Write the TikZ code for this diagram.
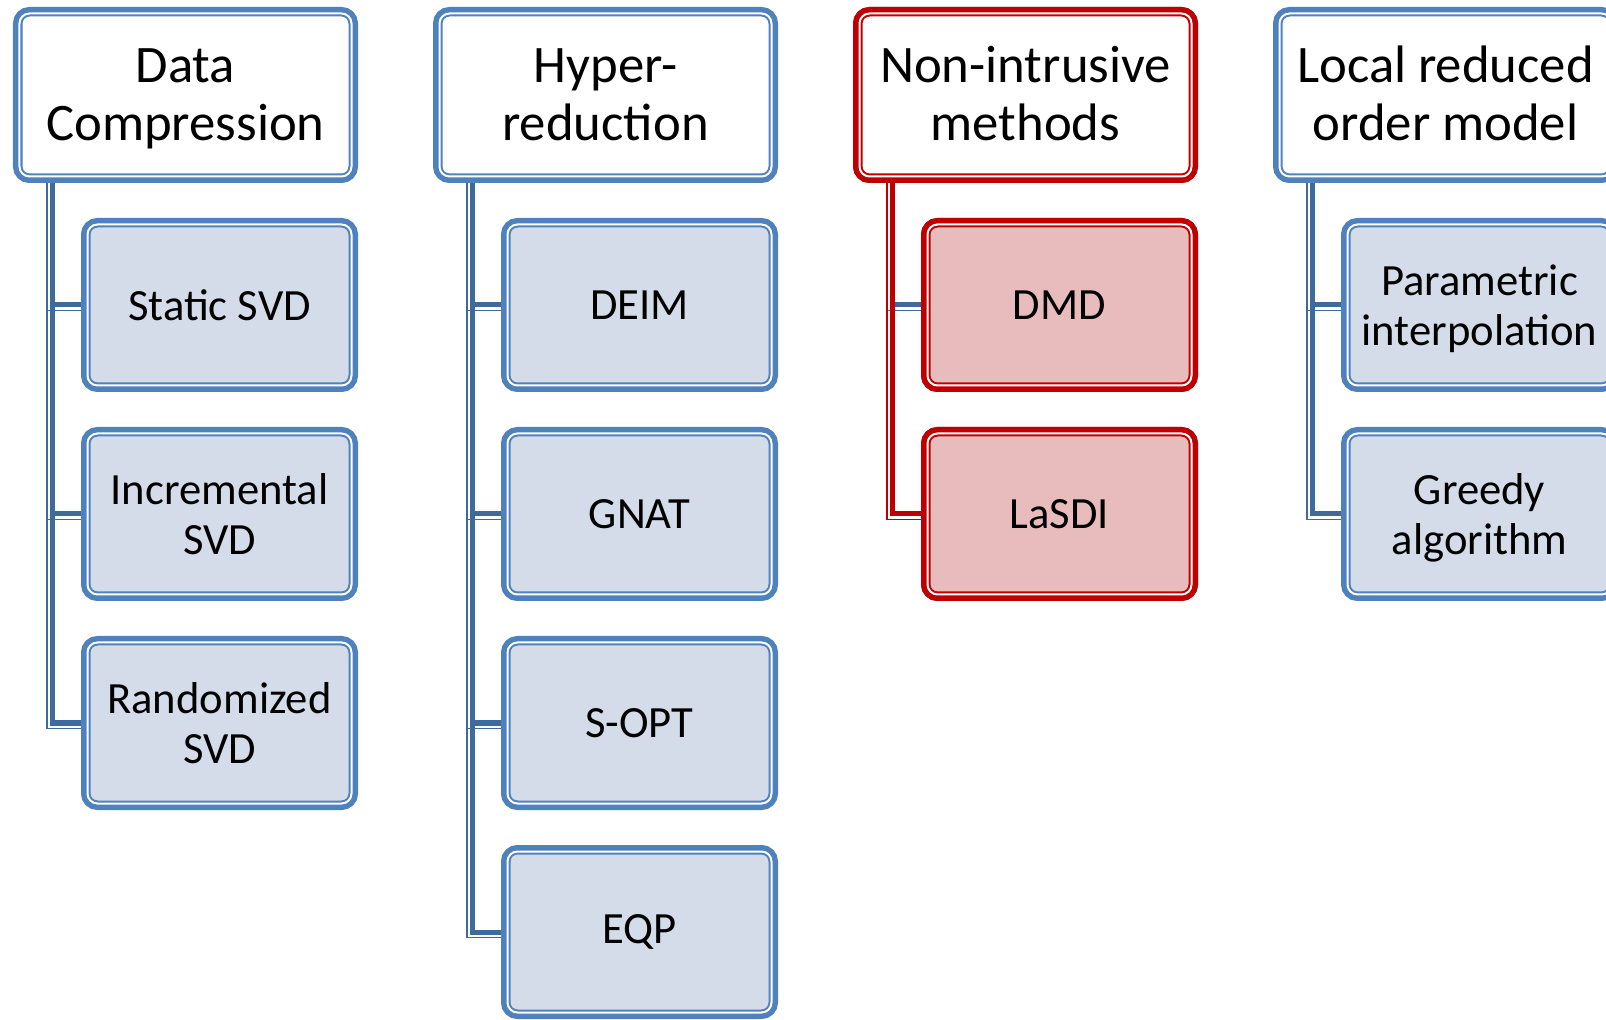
\documentclass[tikz,border=0pt]{standalone}
\usepackage{fontspec}
\setmainfont{Carlito}
\usepackage{tikz}
\usetikzlibrary{positioning,backgrounds}

\definecolor{boxblue}{HTML}{4F81BD}
\definecolor{linkblue}{HTML}{3F6A9C}
\definecolor{subfill}{HTML}{D4DCEA}
\definecolor{boxred}{HTML}{C00000}
\definecolor{redfill}{HTML}{E8BCBC}

\begin{document}
\begin{tikzpicture}[
  head/.style={rectangle, rounded corners=0.1cm, draw=boxblue, fill=white,
    line width=0.02cm, double=white, double distance=0.02cm,
    preaction={draw=boxblue, line width=0.13cm},
    minimum width=3.32cm, minimum height=1.63cm, inner sep=1pt, outer sep=0pt,
    font=\fontsize{15}{16.6}\selectfont, align=center,
    text height=27.1pt, text depth=1.1pt},
  sub/.style={head, fill=subfill, minimum width=2.64cm, minimum height=1.61cm,
    font=\fontsize{12.7}{14.2}\selectfont, text height=, text depth=},
  twoline/.style={text height=23pt, text depth=0pt},
  redhead/.style={draw=boxred, preaction={draw=boxred, line width=0.13cm}},
  redsub/.style={redhead, fill=redfill},
  link/.style={draw=linkblue, line width=0.05cm,
    preaction={draw=linkblue, line width=0.015cm,
      transform canvas={shift={(-0.055,-0.055)}}}},
  redlink/.style={link, draw=boxred,
    preaction={draw=boxred, line width=0.015cm,
      transform canvas={shift={(-0.055,-0.055)}}}},
  node distance=0.48cm
]
\path[use as bounding box, clip] (0,0) rectangle (16.06,-10.20);

% Top level boxes
\node[head] (dc) at (1.855,-0.95) {Data\\Compression};
\node[head] (hr) at (6.055,-0.95) {Hyper-\\reduction};
\node[head, redhead] (ni) at (10.255,-0.95) {Non-intrusive\\methods};
\node[head] (lr) at (14.455,-0.95) {Local reduced\\order model};

% Data compression
\node[sub, below=of dc.south east, anchor=north east] (svdA) {Static SVD};
\node[sub, twoline, below=of svdA] (svdB) {Incremental\\SVD};
\node[sub, twoline, below=of svdB] (svdC) {Randomized\\SVD};

% Hyper-reduction
\node[sub, below=of hr.south east, anchor=north east] (deim) {DEIM};
\node[sub, below=of deim] (gnat) {GNAT};
\node[sub, below=of gnat] (sopt) {S-OPT};
\node[sub, below=of sopt] (eqp) {EQP};

% Non-intrusive
\node[sub, redsub, below=of ni.south east, anchor=north east] (dmd) {DMD};
\node[sub, redsub, below=of dmd] (lasdi) {LaSDI};

% Local ROM
\node[sub, twoline, below=of lr.south east, anchor=north east] (pint) {Parametric\\interpolation};
\node[sub, twoline, below=of pint] (greedy) {Greedy\\algorithm};

% Connectors
\begin{scope}[on background layer]
\draw[link] ([xshift=0.33cm]dc.south west) |- (svdA.west);
\draw[link] ([xshift=0.33cm]dc.south west) |- (svdB.west);
\draw[link] ([xshift=0.33cm]dc.south west) |- (svdC.west);
\draw[link] ([xshift=0.33cm]hr.south west) |- (deim.west);
\draw[link] ([xshift=0.33cm]hr.south west) |- (gnat.west);
\draw[link] ([xshift=0.33cm]hr.south west) |- (sopt.west);
\draw[link] ([xshift=0.33cm]hr.south west) |- (eqp.west);
\draw[link] ([xshift=0.33cm]ni.south west) |- (dmd.west);
\draw[redlink] ([xshift=0.33cm]ni.south west) |- (lasdi.west);
\draw[link] ([xshift=0.33cm]lr.south west) |- (pint.west);
\draw[link] ([xshift=0.33cm]lr.south west) |- (greedy.west);
\end{scope}

\end{tikzpicture}
\end{document}
